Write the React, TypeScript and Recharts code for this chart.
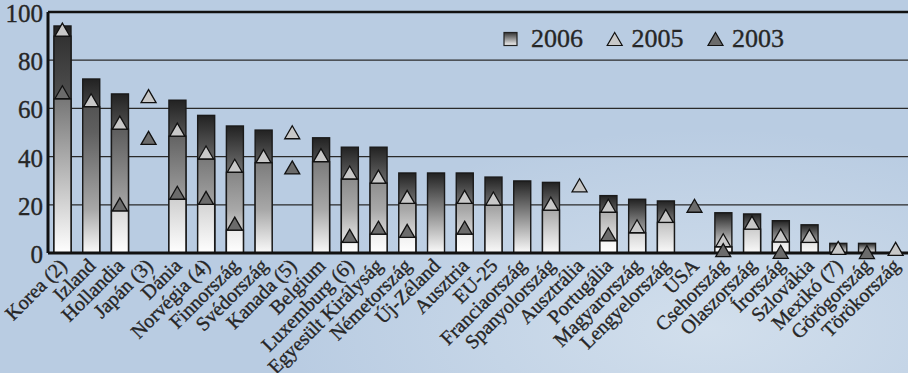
import React from 'react';
import { ComposedChart, Bar, Line, XAxis, YAxis, CartesianGrid, ReferenceLine } from 'recharts';

const categories = ['Korea (2)', 'Izland', 'Hollandia', 'Japán (3)', 'Dánia', 'Norvégia (4)', 'Finnország', 'Svédország', 'Kanada (5)', 'Belgium', 'Luxemburg (6)', 'Egyesült Királyság', 'Németország', 'Új-Zéland', 'Ausztria', 'EU-25', 'Franciaország', 'Spanyolország', 'Ausztrália', 'Portugália', 'Magyarország', 'Lengyelország', 'USA', 'Csehország', 'Olaszország', 'Írország', 'Szlovákia', 'Mexikó (7)', 'Görögország', 'Törökország'];

const values2006 = [94.2, 72.2, 66.0, null, 63.4, 57.1, 52.7, 51.0, null, 47.8, 43.9, 43.9, 33.2, 33.2, 33.2, 31.5, 29.9, 29.3, null, 23.8, 22.3, 21.6, null, 16.7, 16.2, 13.4, 11.7, 4.0, 4.0, null];
const values2005 = [92.7, 63.4, 54.1, 65.1, 51.2, 41.7, 36.2, 40.2, 50.1, 40.6, 33.4, 31.7, 23.3, null, 23.3, 22.6, null, 20.5, 28.1, 19.6, 11.1, 15.4, null, 5.3, 12.6, 7.3, 7.1, 2.1, null, 1.7];
const values2003 = [66.7, null, 20.2, 47.8, 25.0, 22.9, 12.2, null, 35.5, null, 7.1, 10.5, 9.2, null, 10.5, null, null, null, null, 7.8, null, null, 19.6, 1.2, null, 0.5, null, null, 0.4, null];

const yTicks = [0, 20, 40, 60, 80, 100];
const seriesNames = ['2006', '2005', '2003'];

const data = categories.map((name, i) => ({
  name,
  v2006: values2006[i],
  v2005: values2005[i],
  v2003: values2003[i],
  o2005: values2006[i] != null ? values2005[i] : null,
  o2003: values2006[i] != null ? values2003[i] : null,
}));

const FONT = "'Liberation Serif', serif";
const TEXT = '#262626';
const TRI_H = 13;
const TRI_W = 15;

const textStyle = { fontFamily: FONT, stroke: TEXT, strokeWidth: 0.35 };

const triangle = (fill: string) => (props: any) => {
  const { cx, cy, index, value } = props;
  if (cx == null || cy == null || value == null || Number.isNaN(cy)) return <g key={`t-${index}`} />;
  const h = TRI_H / 2;
  const w = TRI_W / 2;
  return (
    <path
      key={`t-${index}`}
      d={`M${cx},${cy - h} L${cx + w},${cy + h} L${cx - w},${cy + h} Z`}
      fill={fill}
      stroke="#111"
      strokeWidth={1.3}
    />
  );
};

const overlayShape = (grad: string) => (props: any) => {
  const { x, y, width, height } = props;
  const shift = TRI_H / 2;
  const h = height - shift;
  if (!(h > 0)) return <g />;
  return <rect x={x} y={y + shift} width={width} height={h} fill={`url(#${grad})`} stroke="#1a1a1a" strokeWidth={1.4} />;
};

const mainShape = (props: any) => {
  const { x, y, width, height } = props;
  if (!(height > 0)) return <g />;
  return <rect x={x} y={y} width={width} height={height} fill="url(#g2006)" stroke="#1a1a1a" strokeWidth={1.4} />;
};

const XTick = (props: any) => {
  const { x, y, payload } = props;
  const ax = x + 5.5;
  const ay = y + 14;
  return (
    <text x={ax} y={ay} transform={`rotate(-45, ${ax}, ${ay})`} textAnchor="end" fontSize={20} style={textStyle} fill={TEXT}>
      {payload.value}
    </text>
  );
};

const YTick = (props: any) => {
  const { x, y, payload } = props;
  return (
    <text x={x} y={y + 10} textAnchor="end" fontSize={25} style={textStyle} fill={TEXT}>
      {payload.value}
    </text>
  );
};

export default function App() {
  return (
    <div
      style={{
        width: 908,
        height: 373,
        position: 'fixed',
        left: 0,
        top: 0,
        overflow: 'hidden',
        background:
          'radial-gradient(ellipse 420px 200px at 78% 88%, rgba(214,226,238,0.85) 0%, rgba(214,226,238,0) 100%), #B9CCE2',
      }}
    >
      <ComposedChart width={910} height={373} data={data} margin={{ top: 12, right: 0, bottom: 0, left: 0 }}>
        <defs>
          <linearGradient id="g2006" x1="0" y1="0" x2="0" y2="1">
            <stop offset="0" stopColor="#222222" />
            <stop offset="1" stopColor="#fbfbfb" />
          </linearGradient>
          <linearGradient id="gO5" gradientUnits="userSpaceOnUse" x1="0" y1="12" x2="0" y2="253">
            <stop offset="0" stopColor="#262626" />
            <stop offset="0.5" stopColor="#606060" />
            <stop offset="0.82" stopColor="#a8a8a8" />
            <stop offset="1" stopColor="#fafafa" />
          </linearGradient>
          <linearGradient id="gO3" gradientUnits="userSpaceOnUse" x1="0" y1="12" x2="0" y2="253">
            <stop offset="0" stopColor="#2a2a2a" />
            <stop offset="1" stopColor="#ffffff" />
          </linearGradient>
        </defs>
        <CartesianGrid horizontal vertical={false} stroke="#2a2a2a" strokeWidth={1.2} />
        <XAxis
          dataKey="name"
          interval={0}
          height={120}
          tickLine={false}
          tickSize={0}
          tickMargin={0}
          tick={<XTick />}
          axisLine={{ stroke: '#111', strokeWidth: 3 }}
        />
        <XAxis xAxisId="o5" dataKey="name" hide />
        <XAxis xAxisId="o3" dataKey="name" hide />
        <YAxis
          domain={[0, 100]}
          ticks={yTicks}
          width={48}
          tickLine={false}
          tickSize={3}
          tickMargin={2}
          tick={<YTick />}
          axisLine={{ stroke: '#111', strokeWidth: 3 }}
        />
        <ReferenceLine y={100} stroke="#111" strokeWidth={2.6} />
        <Bar dataKey="v2006" name={seriesNames[0]} barSize={17} shape={mainShape} isAnimationActive={false} />
        <Bar dataKey="o2005" xAxisId="o5" barSize={17} shape={overlayShape('gO5')} isAnimationActive={false} legendType="none" />
        <Bar dataKey="o2003" xAxisId="o3" barSize={17} shape={overlayShape('gO3')} isAnimationActive={false} legendType="none" />
        <Line dataKey="v2005" name={seriesNames[1]} stroke="none" dot={triangle('#c8c8c8')} activeDot={false} isAnimationActive={false} connectNulls={false} />
        <Line dataKey="v2003" name={seriesNames[2]} stroke="none" dot={triangle('#6b6b6b')} activeDot={false} isAnimationActive={false} connectNulls={false} />
      </ComposedChart>
      <svg width={908} height={60} style={{ position: 'absolute', left: 0, top: 0, pointerEvents: 'none' }}>
        <defs>
          <linearGradient id="gLeg" x1="0" y1="0" x2="0" y2="1">
            <stop offset="0" stopColor="#333" />
            <stop offset="1" stopColor="#f5f5f5" />
          </linearGradient>
        </defs>
        <rect x={504} y={32.5} width={13} height={13} fill="url(#gLeg)" stroke="#222" strokeWidth={1.2} />
        <text x={531} y={46.5} fontSize={26} style={textStyle} fill={TEXT}>{seriesNames[0]}</text>
        <path d="M614.7,32.5 L622.2,45.5 L607.2,45.5 Z" fill="#c8c8c8" stroke="#111" strokeWidth={1.2} />
        <text x={631.5} y={46.5} fontSize={26} style={textStyle} fill={TEXT}>{seriesNames[1]}</text>
        <path d="M715.5,32.5 L723,45.5 L708,45.5 Z" fill="#6b6b6b" stroke="#111" strokeWidth={1.2} />
        <text x={732} y={46.5} fontSize={26} style={textStyle} fill={TEXT}>{seriesNames[2]}</text>
      </svg>
    </div>
  );
}
